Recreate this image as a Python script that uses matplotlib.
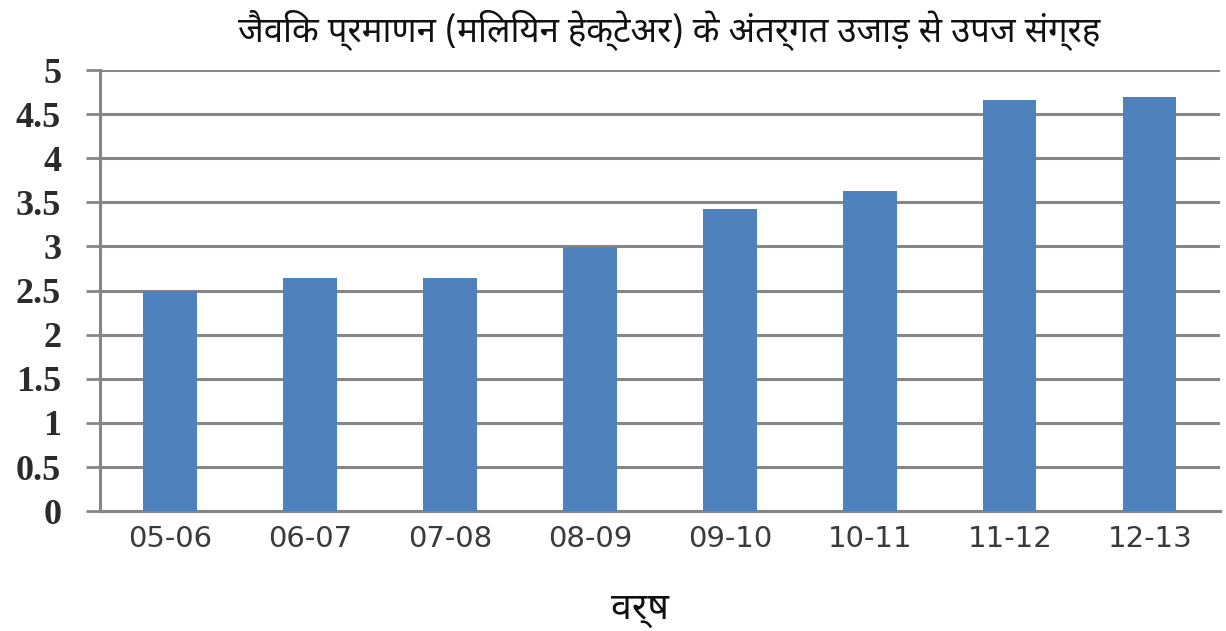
import matplotlib
matplotlib.use('Agg')
import matplotlib.pyplot as plt
import numpy as np

# data
years = ['05-06', '06-07', '07-08', '08-09', '09-10', '10-11', '11-12', '12-13']
values = [2.50, 2.64, 2.64, 2.99, 3.43, 3.63, 4.66, 4.69]
y_ticks = [0, 0.5, 1, 1.5, 2, 2.5, 3, 3.5, 4, 4.5, 5]
y_tick_labels = ['0', '0.5', '1', '1.5', '2', '2.5', '3', '3.5', '4', '4.5', '5']

title = 'जैविक प्रमाणन (मिलियन हेक्टेअर) के अंतर्गत उजाड़ से उपज संग्रह'
xlabel = 'वर्ष'

HINDI = ['Noto Sans Devanagari', 'Lohit Devanagari', 'Mangal', 'FreeSans', 'DejaVu Sans']
BAR = '#4F81BD'
GRID = '#868686'

fig = plt.figure(figsize=(12.26, 6.31), dpi=100)
ax = fig.add_axes([0.0816, 0.19, 0.9134, 0.699])

x = np.arange(len(years))
ax.bar(x, values, width=0.38, color=BAR, zorder=3)

ax.set_xlim(-0.5, len(years) - 0.5)
ax.set_ylim(0, 5)
ax.set_yticks(y_ticks)
ax.set_yticklabels(y_tick_labels, fontsize=26, color='#2b2b2b',
                   family=['Liberation Serif'], fontweight='bold')
ax.set_xticks(x)
ax.set_xticklabels(years, fontsize=21, color='#3a3a3a', family=['DejaVu Sans'])

ax.yaxis.grid(True, color=GRID, linewidth=2.2, zorder=0)
ax.set_axisbelow(True)
ax.tick_params(axis='y', length=10, width=2, color=GRID, pad=18)
ax.tick_params(axis='x', length=0, pad=10)
for s in ['top', 'right']:
    ax.spines[s].set_visible(False)
ax.spines['left'].set_color(GRID)
ax.spines['left'].set_linewidth(2.2)
ax.spines['bottom'].set_color(GRID)
ax.spines['bottom'].set_linewidth(2.2)

fig.text(0.546, 0.953, title, ha='center', va='center', fontsize=25,
         family=HINDI, color='#111111')
fig.text(0.522, 0.035, xlabel, ha='center', va='center', fontsize=27,
         family=HINDI, color='#111111')

fig.savefig('out.png', dpi=100)
